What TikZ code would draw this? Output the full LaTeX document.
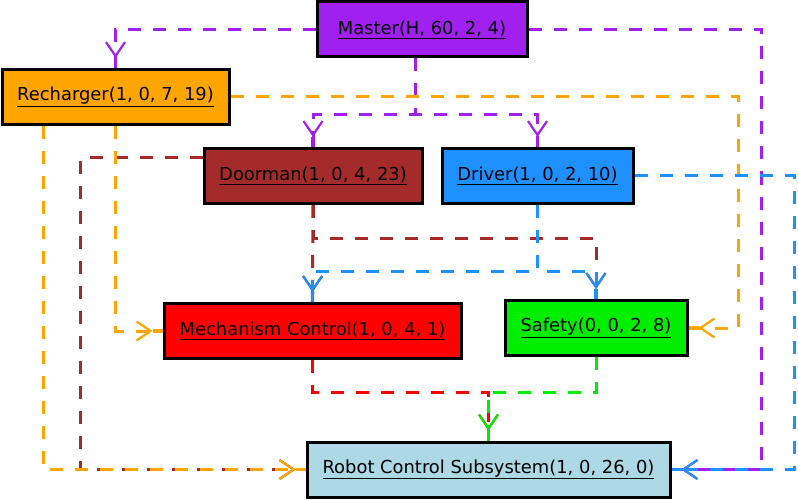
\documentclass[tikz,border=0pt]{standalone}
\usepackage{fontspec}
\setmainfont{DejaVu Sans}
\usetikzlibrary{positioning}
\usetikzlibrary{calc}
\usetikzlibrary{arrows.meta}
\definecolor{colormaster}{HTML}{A020F0}
\definecolor{colorcharge}{HTML}{FFA500}
\definecolor{colordoor}{HTML}{A52A2A}
\definecolor{colordrive}{HTML}{1E90FF}
\definecolor{colormech}{HTML}{FF0000}
\definecolor{colorsafe}{HTML}{00EE00}
\definecolor{colorrobot}{HTML}{ADD8E6}

\begin{document}
\begin{tikzpicture}[x=1pt, y=-1pt,
  box/.style={draw=black, line width=3pt, inner sep=0pt,
    minimum height=55pt, font=\fontsize{17.9}{20}\selectfont},
  link/.style={line width=3pt, dash pattern=on 13pt off 12pt,
    -{Straight Barb[length=14pt, width=19pt, line width=2.2pt]
      Rectangle[length=10pt, width=3.4pt]}}]

\useasboundingbox (0, 0) rectangle (798, 500);

\node[box, fill=colormaster, minimum width=210pt] (master) at (422, 29.5)
  {\underline{Master(H, 60, 2, 4)}\hspace{13pt}};
\node[box, fill=colorcharge, minimum width=227pt] (recharger) at (115.5, 97)
  {\underline{Recharger(1, 0, 7, 19)}};
\node[box, fill=colordoor, minimum width=218pt] (doorman) at (313, 176)
  {\underline{Doorman(1, 0, 4, 23)}};
\node[box, fill=colordrive, minimum width=191pt] (driver) at (537.5, 176)
  {\underline{Driver(1, 0, 2, 10)}};
\node[box, fill=colormech, minimum width=297pt] (mech) at (312.5, 331)
  {\underline{Mechanism Control(1, 0, 4, 1)}};
\node[box, fill=colorsafe, minimum width=182pt] (safety) at (596, 328)
  {\underline{Safety(0, 0, 2, 8)}};
\node[box, fill=colorrobot, minimum width=363pt] (robot) at (488.5, 469.5)
  {\underline{Robot Control Subsystem(1, 0, 26, 0)}};

\coordinate (masterfork) at (415, 115);

% master
\draw[link, colormaster] (master.west) -| (recharger.north);
\draw[link, colormaster] (master.south -| masterfork) -- (masterfork) -| (doorman.north);
\draw[link, colormaster] (master.south -| masterfork) -- (masterfork) -| (driver.north);
\draw[link, colormaster] (master.east) -| ([xshift=90pt]robot.east) -- (robot.east);

% doorman
\draw[link, colordoor] ([yshift=18pt]doorman.west) -| ([xshift=-225pt]robot.west) -- (robot.west);
\draw[link, colordoor] (doorman.south) -- (mech.north);
\draw[link, colordoor] (doorman.south) -- ++(0, 33) -| (safety.north);

% recharger
\draw[link, colorcharge] (recharger.east) -| ([xshift=50pt]safety.east) -- (safety.east);
\draw[link, colorcharge] (recharger.south) |- (mech.west);
\draw[link, colorcharge] ([xshift=-72pt]recharger.south) |- (robot.west);

% driver
\draw[link, colordrive] (driver.south) -- ++(0, 66) -| (mech.north);
\draw[link, colordrive] (driver.south) -- ++(0, 66) -| (safety.north);
\draw[link, colordrive] (driver.east) -| ([xshift=123pt]robot.east) -- (robot.east);

% mechanism control and safety
\draw[link, colormech] (mech.south) -- ++(0, 32) -| (robot.north);
\draw[link, colorsafe] (safety.south) -- ++(0, 35) -| (robot.north);
\end{tikzpicture}
\end{document}
